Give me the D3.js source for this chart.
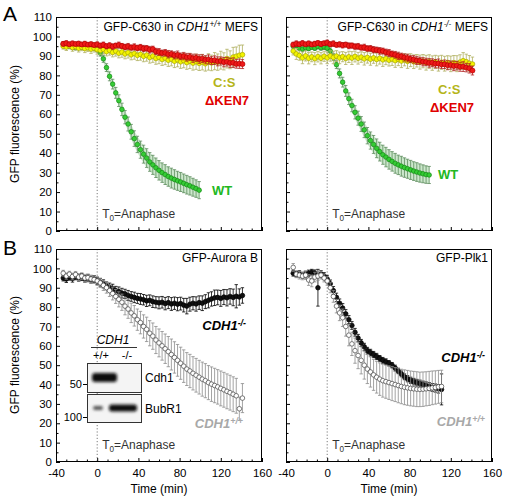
<!DOCTYPE html>
<html><head><meta charset="utf-8">
<script src="https://cdn.jsdelivr.net/npm/d3@7"></script>
<style>
body{margin:0;background:#fff}
svg{display:block}
text{font-family:"Liberation Sans",Arial,Helvetica,sans-serif}
</style>
</head><body>
<svg id="c" width="506" height="498"></svg>
<script>
// ---------------- DATA ----------------
const yTicks = [0,10,20,30,40,50,60,70,80,90,100,110];
const yMinor = [5,15,25,35,45,55,65,75,85,95,105];
const xTicks = [-40,0,40,80,120,160];
const xMinor = [-30,-20,-10,10,20,30,50,60,70,90,100,110,130,140,150];

const tA = [-33,-30,-27,-24,-21,-18,-15,-12,-9,-6,-3,0,3,6,9,12,15,18,21,24,27,30,33,36,39,42,45,48,51,54,57,60,63,66,69,72,75,78,81,84,87,90,93,96,99,102,105,108,111,114,117,120,123,126,129,132,135,138,141];
const tWT = [-33,-30,-27,-24,-21,-18,-15,-12,-9,-6,-3,0,3,6,9,12,15,18,21,24,27,30,33,36,39,42,45,48,51,54,57,60,63,66,69,72,75,78,81,84,87,90,93,96,99];
const tPlk = [-33,-30,-27,-24,-21,-18,-15,-12,-9,-6,-3,0,3,6,9,12,15,18,21,24,27,30,33,36,39,42,45,48,51,54,57,60,63,66,69,72,75,78,81,84,87,90,93,96,99,102,105,108,111];

// Panel A left: GFP-C630 in CDH1+/+ MEFS
const ken7WT = [96.2,96.5,96.0,96.4,96.1,96.3,95.9,96.2,95.8,96.0,
  95.6,95.9,95.3,95.7,95.0,95.4,94.8,95.3,95.6,95.1,
  94.6,94.9,94.3,94.6,94.1,94.4,93.8,93.9,93.2,93.5,
  92.3,92.0,91.5,91.6,90.9,91.0,90.3,90.5,89.8,89.9,
  89.3,89.5,88.8,89.0,88.4,88.6,88.0,88.2,87.6,87.8,
  87.2,87.4,86.8,87.0,86.4,86.5,85.9,86.0,85.8];
const ken7WTerr = [1.2,1.3,1.1,1.2,1.0,1.2,1.1,1.3,1.0,1.2,
  1.1,1.3,1.2,1.4,1.2,1.3,1.4,1.2,1.5,1.3,
  1.4,1.5,1.3,1.6,1.4,1.5,1.6,1.4,1.7,1.5,
  1.6,1.8,1.5,1.7,1.9,1.6,1.8,2.0,1.7,1.9,
  2.0,1.8,2.1,1.9,2.2,2.0,2.1,2.3,2.0,2.2,
  2.3,2.1,2.4,2.2,2.3,2.5,2.2,2.4,2.3];
const csWT = [95.0,94.6,95.2,94.3,94.8,94.0,94.5,93.8,94.2,93.5,
  94.0,93.2,92.8,93.4,92.2,92.9,91.8,92.5,91.4,92.0,
  91.0,91.7,90.6,91.2,90.3,90.8,89.8,90.4,89.2,89.9,
  88.7,89.3,88.2,88.9,87.8,88.4,87.3,88.0,87.0,87.6,
  86.6,87.3,86.3,87.0,86.2,86.8,86.0,86.9,86.4,87.3,
  86.8,87.8,87.2,88.6,88.0,89.4,89.8,90.3,90.6];
const csWTerr = [1.5,1.8,1.6,1.9,1.7,2.0,1.8,2.1,1.9,2.2,
  2.0,2.3,2.1,2.4,2.2,2.5,2.3,2.6,2.4,2.7,
  2.5,2.8,2.6,2.9,2.7,3.0,2.8,3.1,2.9,3.2,
  3.0,3.3,3.1,3.4,3.2,3.5,3.3,3.6,3.4,3.7,
  3.5,3.8,3.6,3.9,3.7,4.0,3.8,4.2,4.0,4.4,
  4.2,4.6,4.4,4.8,4.6,5.0,4.8,5.2,5.0];
const wtWT = [96.0,95.5,95.0,94.6,94.3,94.8,94.5,94.9,94.4,94.6,
  94.3,93.5,91.5,88.5,84.0,79.5,75.5,71.0,67.0,62.5,
  58.5,55.0,51.0,47.5,44.5,41.8,39.5,37.5,35.5,34.0,
  32.5,31.2,30.0,29.0,28.0,27.2,26.5,25.8,25.2,24.5,
  23.8,23.2,22.5,21.8,21.0];
const wtWTerr = [1.0,1.0,1.1,1.0,1.2,1.1,1.2,1.1,1.2,1.3,
  1.3,1.4,1.6,1.8,2.0,2.3,2.5,2.8,3.0,3.2,
  3.4,3.6,3.8,4.0,4.2,4.4,4.6,4.8,4.8,4.9,
  5.0,5.0,5.0,5.1,5.0,5.1,5.0,4.9,4.9,4.8,
  4.8,4.7,4.6,4.5,4.4];

// Panel A right: GFP-C630 in CDH1-/- MEFS
const ken7KO = [95.8,96.3,96.0,96.5,96.0,96.4,95.9,96.2,96.6,96.1,
  96.5,96.8,96.0,96.3,95.7,95.9,95.5,95.8,95.2,95.3,
  94.8,94.9,94.3,94.4,93.8,93.8,93.2,93.1,92.6,92.5,
  91.9,91.5,91.0,90.6,90.0,89.8,89.2,88.9,88.4,88.2,
  87.6,87.5,87.0,86.9,86.4,86.5,86.0,86.1,85.6,85.7,
  85.2,85.3,84.8,85.0,84.4,84.5,84.0,83.6,82.5];
const ken7KOerr = [1.2,1.4,1.1,1.3,1.0,1.2,1.1,1.3,1.2,1.2,
  1.1,1.3,1.2,1.4,1.2,1.3,1.4,1.2,1.5,1.3,
  1.4,1.5,1.3,1.6,1.4,1.5,1.6,1.4,1.7,1.5,
  1.6,1.8,1.5,1.7,1.9,1.6,1.8,2.0,1.7,1.9,
  2.0,1.8,2.1,1.9,2.2,2.0,2.1,2.3,2.0,2.2,
  2.3,2.1,2.4,2.2,2.3,2.5,2.2,2.4,2.3];
const csKO = [92.5,91.0,90.2,89.0,90.0,88.8,89.5,88.6,89.6,88.8,
  89.8,89.0,90.0,89.2,89.9,89.0,89.6,88.7,89.5,88.9,
  89.7,88.8,89.4,88.5,89.2,88.3,89.0,88.2,88.8,88.0,
  88.6,87.8,88.4,87.6,88.2,87.4,88.0,87.2,87.8,87.0,
  87.5,86.8,87.3,86.5,87.1,86.3,86.9,86.1,86.7,86.0,
  86.6,85.9,86.5,86.0,86.8,87.5,87.0,86.2,85.8];
const csKOerr = [2.0,2.8,2.4,3.0,2.6,2.9,2.5,3.1,2.7,2.9,
  2.6,3.0,2.7,3.2,2.8,3.0,2.6,3.1,2.9,3.3,
  2.8,3.0,2.7,3.2,2.9,3.1,2.8,3.3,3.0,3.4,
  3.1,3.0,3.3,3.5,3.2,3.4,3.1,3.6,3.3,3.5,
  3.2,3.6,3.4,3.8,3.5,3.7,3.4,3.9,3.6,3.8,
  3.5,4.0,3.7,4.1,3.8,4.2,3.9,4.0,3.6];
const wtKO = [95.0,95.5,94.0,93.5,94.2,93.8,94.5,94.0,94.8,94.2,
  94.6,94.0,92.5,89.5,85.5,81.0,76.5,72.0,68.0,64.5,
  61.0,58.0,55.0,52.0,49.0,46.5,44.5,42.5,40.8,39.2,
  38.0,36.8,35.8,34.8,34.0,33.3,32.6,32.0,31.4,30.8,
  30.3,29.8,29.4,29.0,28.8];
const wtKOerr = [1.0,1.1,1.2,1.0,1.2,1.1,1.2,1.1,1.2,1.3,
  1.3,1.4,1.6,1.8,2.0,2.3,2.5,2.8,3.0,3.2,
  3.4,3.6,3.8,4.0,4.2,4.4,4.6,4.8,4.8,4.9,
  5.0,5.0,5.0,5.1,5.0,5.1,5.0,4.9,4.9,4.8,
  4.8,4.7,4.6,4.5,4.4];

// Panel B left: GFP-Aurora B
const aurKO = [95.0,94.5,95.5,94.8,95.8,95.0,95.5,94.6,95.0,94.2,
  94.5,93.5,92.8,92.0,91.0,90.2,89.5,88.5,88.0,87.2,
  86.8,86.0,85.5,85.0,84.5,84.2,83.8,83.2,83.5,82.8,
  82.5,82.2,82.5,81.8,82.3,81.6,82.0,81.5,81.8,81.0,
  80.5,81.5,82.0,81.6,82.3,82.0,82.8,83.5,84.2,84.8,
  85.0,84.5,85.2,84.8,85.5,85.0,85.6,85.2,86.0];
const aurKOerr = [1.5,1.8,1.6,1.9,1.7,1.6,1.8,1.7,1.9,1.8,
  1.8,1.9,2.0,2.1,2.0,2.2,2.3,2.2,2.4,2.5,
  2.4,2.6,2.5,2.7,2.6,2.8,2.7,2.9,2.8,3.0,
  2.9,3.1,3.0,3.2,3.1,3.3,3.2,3.4,3.3,3.5,
  4.0,3.6,3.4,3.7,3.5,3.8,3.6,3.9,3.7,4.0,
  3.8,4.1,3.9,4.2,4.0,4.3,6.0,4.2,4.0];
const aurWT = [97.5,96.0,97.0,95.8,96.8,95.5,96.0,95.0,95.2,94.5,
  94.2,93.5,92.5,91.2,90.0,88.5,87.0,85.5,84.0,82.5,
  80.5,79.0,77.0,75.5,73.5,72.0,70.0,68.5,66.5,65.0,
  63.0,61.5,60.0,58.5,57.0,55.5,54.0,52.5,51.0,49.5,
  48.0,47.0,45.8,44.8,43.8,42.8,42.0,41.0,40.2,39.5,
  38.8,38.0,37.3,36.5,35.8,35.0,34.2,27.5,33.0];
const aurWTerr = [1.5,1.6,1.5,1.7,1.6,1.8,1.7,1.9,1.8,2.0,
  2.0,2.2,2.4,2.6,2.8,3.0,3.3,3.6,3.9,4.2,
  4.5,4.8,5.0,5.3,5.5,5.8,6.0,6.3,6.5,6.8,
  7.0,7.2,7.4,7.6,7.8,8.0,8.1,8.2,8.3,8.4,
  8.5,8.6,8.6,8.7,8.7,8.8,8.8,8.8,8.9,8.9,
  8.9,9.0,9.0,9.0,9.0,9.0,9.0,6.0,7.5];

// Panel B right: GFP-Plk1
const plkKO = [97.5,97.0,97.2,96.5,96.8,97.5,98.0,97.6,90.0,97.0,
  96.0,94.5,92.0,88.5,85.0,82.0,79.5,76.5,73.5,70.5,
  67.0,64.0,61.5,59.5,57.5,56.5,55.5,54.5,53.5,52.5,
  51.8,51.0,50.0,48.5,47.0,45.5,44.0,43.0,42.2,41.5,
  41.0,40.5,40.0,39.5,39.0,38.5,38.2,37.8,37.5];
const plkKOerr = [1.5,1.4,1.6,1.5,1.7,1.6,1.5,1.6,9.5,1.8,
  1.8,1.9,2.0,2.1,2.2,2.2,2.3,2.2,2.1,2.0,
  2.0,1.9,1.8,1.8,1.7,1.7,1.6,1.6,1.5,1.5,
  1.5,1.4,1.4,1.5,1.4,1.5,1.5,1.6,1.6,1.7,
  1.7,1.8,1.8,1.9,2.0,2.0,2.1,2.2,8.0];
const plkWT = [100.5,97.0,96.5,96.0,96.5,94.0,93.5,95.5,96.0,96.5,
  95.0,93.5,90.0,85.5,80.5,77.0,74.5,70.0,65.5,61.0,
  57.5,55.0,52.5,50.0,48.0,46.5,45.0,43.8,42.8,42.0,
  41.5,41.0,40.5,40.0,39.5,39.0,38.6,38.3,38.0,37.8,
  37.6,37.5,37.6,37.8,38.0,38.3,38.5,38.8,39.0];
const plkWTerr = [2.0,1.8,2.0,1.9,2.2,2.8,3.0,2.5,2.2,2.0,
  2.0,2.2,2.6,3.0,3.5,4.0,4.5,5.0,5.5,6.0,
  6.5,6.8,7.0,7.2,7.5,7.8,8.0,8.2,8.4,8.5,
  8.6,8.7,8.8,8.8,8.9,8.9,9.0,9.0,9.0,9.0,
  9.0,8.9,8.9,8.8,8.8,8.7,8.6,8.5,8.4];

// ---------------- STYLES ----------------
const ST = {
  red:   {fill:"#ee1a1a", stroke:"#b80000", err:"#b02020", r:2.5},
  yel:   {fill:"#f4f400", stroke:"#a6a600", err:"#b0b060", r:2.4},
  grn:   {fill:"#35cc35", stroke:"#138a13", err:"#5d8c5d", r:2.3, band:"#c4e4c4"},
  blk:   {fill:"#111", stroke:"#000", err:"#000", r:2.3},
  open:  {fill:"#fff", stroke:"#444", err:"#8c8c8c", r:2.3}
};

const svg = d3.select("#c");
const defs = svg.append("defs");
defs.append("filter").attr("id","blur").attr("x","-30%").attr("y","-60%").attr("width","160%").attr("height","220%")
  .append("feGaussianBlur").attr("stdDeviation","1.5");

const fmt = d => String(d);

function makePanel(p) {
  const x = d3.scaleLinear().domain([-40,160]).range([p.x0,p.x1]);
  const y = d3.scaleLinear().domain([0,110]).range([p.y1,p.y0]);
  const g = svg.append("g");
  g.append("line").attr("x1",x(0)).attr("x2",x(0)).attr("y1",p.y0).attr("y2",p.y1)
    .attr("stroke","#7a7a7a").attr("stroke-width",1).attr("stroke-dasharray","1.2,2");
  const ya = g.append("g").attr("transform",`translate(${p.x0},0)`)
    .call(d3.axisLeft(y).tickValues(yTicks).tickSize(-4).tickPadding(4)
      .tickFormat(p.yLabels ? fmt : ""));
  const ym = g.append("g").attr("transform",`translate(${p.x0},0)`)
    .call(d3.axisLeft(y).tickValues(yMinor).tickSize(-2.5).tickFormat(""));
  const xa = g.append("g").attr("transform",`translate(0,${p.y1})`)
    .call(d3.axisBottom(x).tickValues(xTicks).tickSize(-4).tickPadding(7)
      .tickFormat(p.xLabels ? fmt : ""));
  const xm = g.append("g").attr("transform",`translate(0,${p.y1})`)
    .call(d3.axisBottom(x).tickValues(xMinor).tickSize(-2.5).tickFormat(""));
  [ya,ym,xa,xm].forEach(a => {
    a.select(".domain").remove();
    a.selectAll("text").attr("font-size",11.5).attr("fill","#000")
      .attr("font-family","Liberation Sans, Arial, sans-serif");
    a.selectAll("line").attr("stroke","#000");
  });
  return {x,y,g};
}

function series(P, t, v, e, st) {
  const rows = t.map((tt,i) => ({t:tt, v:v[i], e:e[i]}));
  const g = P.g.append("g");
  if (st.band) {
    g.append("path").datum(rows)
      .attr("d", d3.area().x(d=>P.x(d.t)).y0(d=>P.y(d.v-d.e)).y1(d=>P.y(d.v+d.e)))
      .attr("fill", st.band).attr("opacity",0.85);
  }
  const eb = g.append("g").attr("stroke", st.err).attr("stroke-width",0.8).attr("fill","none");
  rows.forEach(d => {
    const xx = P.x(d.t), ylo = P.y(d.v-d.e), yhi = P.y(d.v+d.e);
    eb.append("line").attr("x1",xx).attr("x2",xx).attr("y1",ylo).attr("y2",yhi);
    eb.append("line").attr("x1",xx-1.7).attr("x2",xx+1.7).attr("y1",ylo).attr("y2",ylo);
    eb.append("line").attr("x1",xx-1.7).attr("x2",xx+1.7).attr("y1",yhi).attr("y2",yhi);
  });
  g.selectAll("circle").data(rows).join("circle")
    .attr("cx", d=>P.x(d.t)).attr("cy", d=>P.y(d.v)).attr("r", st.r)
    .attr("fill", st.fill).attr("stroke", st.stroke).attr("stroke-width",0.7);
}

function frame(p) {
  svg.append("rect").attr("x",p.x0+0.5).attr("y",p.y0+0.5)
    .attr("width",p.x1-p.x0-1).attr("height",p.y1-p.y0-1)
    .attr("fill","none").attr("stroke","#000").attr("stroke-width",1);
}

function txt(x, y, parts, opts) {
  const t = svg.append("text").attr("x",x).attr("y",y)
    .attr("font-size",opts.size||12).attr("fill",opts.fill||"#000")
    .attr("text-anchor",opts.anchor||"start")
    .attr("font-weight",opts.weight||"normal")
    .attr("font-style",opts.style||"normal");
  let shift = 0;
  parts.forEach(pt => {
    const s = t.append("tspan").text(pt.t);
    const want = pt.sup ? -4 : pt.sub ? 3 : 0;
    if (want !== shift) { s.attr("dy", want - shift); shift = want; }
    if (pt.sup || pt.sub) s.attr("font-size", (opts.size||12)*0.68);
    if (pt.it) s.attr("font-style","italic");
  });
  return t;
}

// ---------------- PANELS ----------------
const pAL = {x0:56,x1:262,y0:17,y1:231,yLabels:true,xLabels:false};
const pAR = {x0:286,x1:492,y0:17,y1:231,yLabels:false,xLabels:false};
const pBL = {x0:56,x1:262,y0:249,y1:462,yLabels:true,xLabels:true};
const pBR = {x0:286,x1:492,y0:249,y1:462,yLabels:false,xLabels:true};

const AL = makePanel(pAL);
series(AL, tWT, wtWT, wtWTerr, ST.grn);
series(AL, tA, csWT, csWTerr, ST.yel);
series(AL, tA, ken7WT, ken7WTerr, ST.red);
frame(pAL);

const AR = makePanel(pAR);
series(AR, tWT, wtKO, wtKOerr, ST.grn);
series(AR, tA, csKO, csKOerr, ST.yel);
series(AR, tA, ken7KO, ken7KOerr, ST.red);
frame(pAR);

const BL = makePanel(pBL);
series(BL, tA, aurKO, aurKOerr, ST.blk);
series(BL, tA, aurWT, aurWTerr, ST.open);
frame(pBL);

const BR = makePanel(pBR);
series(BR, tPlk, plkKO, plkKOerr, ST.blk);
series(BR, tPlk, plkWT, plkWTerr, ST.open);
frame(pBR);

// ---------------- TEXT ----------------
svg.append("text").attr("x",3).attr("y",21).attr("font-size",21).text("A");
svg.append("text").attr("x",3).attr("y",255).attr("font-size",21).text("B");

[[pAL,124],[pBL,355]].forEach(([p,cy]) => {
  svg.append("text").attr("transform",`translate(19,${cy}) rotate(-90)`)
    .attr("text-anchor","middle").attr("font-size",12).text("GFP fluorescence (%)");
});
[pBL,pBR].forEach(p => {
  svg.append("text").attr("x",(p.x0+p.x1)/2).attr("y",493).attr("text-anchor","middle")
    .attr("font-size",12).text("Time (min)");
});

txt(258, 31, [{t:"GFP-C630 in "},{t:"CDH1",it:true},{t:"+/+",sup:true,it:true},{t:" MEFS"}], {anchor:"end"});
txt(488, 31, [{t:"GFP-C630 in "},{t:"CDH1",it:true},{t:"-/-",sup:true,it:true},{t:" MEFS"}], {anchor:"end"});
txt(258, 262, [{t:"GFP-Aurora B"}], {anchor:"end"});
txt(488, 262, [{t:"GFP-Plk1"}], {anchor:"end"});

[[AL,pAL],[AR,pAR],[BL,pBL],[BR,pBR]].forEach(([P,p]) => {
  txt(P.x(0)+5, p.y1-13, [{t:"T"},{t:"0",sub:true},{t:"=Anaphase"}], {fill:"#333", size:12});
});

txt(213, 87, [{t:"C:S"}], {fill:"#b5b519", weight:"bold", size:13});
txt(205, 105, [{t:"\u0394KEN7"}], {fill:"#e00000", weight:"bold", size:13});
txt(212, 195, [{t:"WT"}], {fill:"#22b822", weight:"bold", size:13});
txt(438, 94, [{t:"C:S"}], {fill:"#b5b519", weight:"bold", size:13});
txt(430, 112, [{t:"\u0394KEN7"}], {fill:"#e00000", weight:"bold", size:13});
txt(438, 179, [{t:"WT"}], {fill:"#22b822", weight:"bold", size:13});

txt(246, 330, [{t:"CDH1"},{t:"-/-",sup:true}], {anchor:"end", weight:"bold", style:"italic", size:13});
txt(243, 428, [{t:"CDH1"},{t:"+/+",sup:true}], {anchor:"end", weight:"bold", style:"italic", size:13, fill:"#a8a8a8"});
txt(485, 362, [{t:"CDH1"},{t:"-/-",sup:true}], {anchor:"end", weight:"bold", style:"italic", size:13});
txt(485, 426, [{t:"CDH1"},{t:"+/+",sup:true}], {anchor:"end", weight:"bold", style:"italic", size:13, fill:"#a8a8a8"});

// ---------------- INSET WESTERN BLOT ----------------
const ins = svg.append("g");
ins.append("text").attr("x",113).attr("y",344).attr("text-anchor","middle")
  .attr("font-size",12).attr("font-style","italic").text("CDH1");
ins.append("line").attr("x1",91).attr("x2",137).attr("y1",347.5).attr("y2",347.5).attr("stroke","#000").attr("stroke-width",0.8);
ins.append("text").attr("x",101).attr("y",359).attr("text-anchor","middle").attr("font-size",11).text("+/+");
ins.append("text").attr("x",127).attr("y",359).attr("text-anchor","middle").attr("font-size",11).text("-/-");
ins.append("rect").attr("x",87.5).attr("y",363.5).attr("width",54).attr("height",29).attr("fill","#f4f4f4").attr("stroke","#333").attr("stroke-width",1);
ins.append("rect").attr("x",87.5).attr("y",394.5).attr("width",54).attr("height",28).attr("fill","#f4f4f4").attr("stroke","#333").attr("stroke-width",1);
ins.append("rect").attr("x",92).attr("y",373).attr("width",25).attr("height",9).attr("rx",3)
  .attr("fill","#111").attr("filter","url(#blur)");
ins.append("rect").attr("x",93).attr("y",406).attr("width",10).attr("height",4).attr("rx",2)
  .attr("fill","#555").attr("filter","url(#blur)");
ins.append("rect").attr("x",109).attr("y",404.5).attr("width",28).attr("height",7).attr("rx",3)
  .attr("fill","#111").attr("filter","url(#blur)");
ins.append("text").attr("x",82).attr("y",388).attr("text-anchor","end").attr("font-size",11).text("50");
ins.append("line").attr("x1",83).attr("x2",87).attr("y1",384.5).attr("y2",384.5).attr("stroke","#000");
ins.append("text").attr("x",82).attr("y",421).attr("text-anchor","end").attr("font-size",11).text("100");
ins.append("line").attr("x1",83).attr("x2",87).attr("y1",417.5).attr("y2",417.5).attr("stroke","#000");
ins.append("text").attr("x",145).attr("y",382).attr("font-size",12).text("Cdh1");
ins.append("text").attr("x",145).attr("y",413).attr("font-size",12).text("BubR1");
</script>
</body></html>
